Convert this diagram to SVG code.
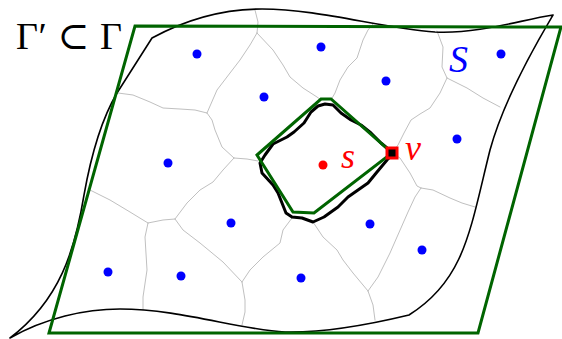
<svg xmlns="http://www.w3.org/2000/svg" width="562" height="339" viewBox="0 0 562 339">
<style>
.vor{fill:none;stroke:#c0c0c0;stroke-width:1;stroke-linejoin:round;stroke-linecap:round}
.bnd{fill:none;stroke:#000;stroke-width:1.6;stroke-linejoin:round}
.grn{fill:none;stroke:#006400;stroke-width:3;stroke-linejoin:miter}
.cell{fill:none;stroke:#000;stroke-width:3;stroke-linejoin:round}
.site{fill:#0000ff}
.lbl{font-family:"Liberation Serif","DejaVu Serif",serif}
.it{font-style:italic}
</style>
<rect width="562" height="339" fill="#fff"/>
<g id="voronoi">
<polyline class="vor" points="118,93 133,95 150,102 163,108 180,109 195,110 207,113"/>
<polyline class="vor" points="207,113 217,90 230,73 240,60 250,45 257,33"/>
<polyline class="vor" points="257,33 258,22 255,10"/>
<polyline class="vor" points="257,33 273,50 283,65 290,77 303,88 317,97 321,100"/>
<polyline class="vor" points="331,100 335,93 340,80 348,67 357,58 363,40 368,30 373,24"/>
<polyline class="vor" points="437,31 443,47 442,67 447,78"/>
<polyline class="vor" points="447,78 467,88 483,98 500,107"/>
<polyline class="vor" points="447,78 440,93 430,108 420,114 411,120 404,133 398,145 392,153"/>
<polyline class="vor" points="392,153 400,158 410,173 417,186 421,188"/>
<polyline class="vor" points="421,188 433,190 450,198 462,203 475,207"/>
<polyline class="vor" points="421,188 415,197 408,212 397,237 390,253 378,277 368,291"/>
<polyline class="vor" points="368,291 373,305 375,320"/>
<polyline class="vor" points="368,291 353,273 343,260 337,250 323,237 315,225 313,222"/>
<polyline class="vor" points="292,218 283,230 280,243 263,257 250,270 242,282"/>
<polyline class="vor" points="242,282 245,300 245,312 242,325"/>
<polyline class="vor" points="242,282 223,262 200,243 183,230 175,219"/>
<polyline class="vor" points="175,219 187,203 200,190 213,182 223,170 234,158"/>
<polyline class="vor" points="234,158 222,147 215,130 212,120 207,113"/>
<polyline class="vor" points="234,158 247,159 258,161"/>
<polyline class="vor" points="175,219 163,220 148,223"/>
<polyline class="vor" points="148,223 130,212 110,200 88,189"/>
<polyline class="vor" points="148,223 145,237 147,270 143,297 143,310"/>
</g>
<g id="gamma">
<path class="bnd" d="M10,338 C45,318 85,309 120,309 C180,309 240,330 285,332 C330,333 380,322 409,315 C465,280 470,230 490,150 C505,95 540,37 553,15 C520,20 480,34 435,32 C380,28 320,9 262,9 C220,9 185,20 152,38 L117,93 C104,115 92,150 84,195 C75,250 60,300 10,338 Z"/>
</g>
<g id="gamma-prime">
<polygon class="grn" points="135,26 561,27 478,333 49,333"/>
</g>
<g id="cell">
<polygon class="cell" points="392,155 387,148 381,143 371,133 361,125 351,120 341,113 333,105 325,104 318,106 311,112 304,123 294,132 287,137 273,144 265,155 260,163 262,173 273,185 278,193 282,203 286,213 292,217 302,218 313,222 324,217 338,207 348,197 358,190 368,183 377,172 387,160"/>
<polygon class="grn" stroke-width="2.6" points="257,155 321,99 331,99 392,153 314,213 293,212"/>
</g>
<g id="sites">
<circle class="site" cx="197" cy="54" r="4.5"/>
<circle class="site" cx="321" cy="47" r="4.5"/>
<circle class="site" cx="386" cy="81" r="4.5"/>
<circle class="site" cx="264" cy="97" r="4.5"/>
<circle class="site" cx="501" cy="54" r="4.5"/>
<circle class="site" cx="457" cy="139" r="4.5"/>
<circle class="site" cx="168" cy="163" r="4.5"/>
<circle class="site" cx="231" cy="223" r="4.5"/>
<circle class="site" cx="370" cy="224" r="4.5"/>
<circle class="site" cx="422" cy="250" r="4.5"/>
<circle class="site" cx="108" cy="272" r="4.5"/>
<circle class="site" cx="181" cy="276" r="4.5"/>
<circle class="site" cx="301" cy="278" r="4.5"/>
</g>
<g id="s">
<circle cx="323" cy="165" r="4.5" fill="#ff0000"/>
<text class="lbl it" x="341" y="168" font-size="36" fill="#ff0000">s</text>
</g>
<g id="v">
<rect x="387" y="148" width="10" height="10" fill="#000" stroke="#ff0000" stroke-width="3"/>
<text class="lbl it" x="405" y="160" font-size="36" fill="#ff0000">v</text>
</g>
<g id="labels">
<text class="lbl" x="16" y="49" font-size="38" fill="#000" textLength="106" lengthAdjust="spacing">Γ′ ⊂ Γ</text>
<text class="lbl it" x="449" y="72" font-size="38" fill="#0000ff">S</text>
</g>
</svg>
